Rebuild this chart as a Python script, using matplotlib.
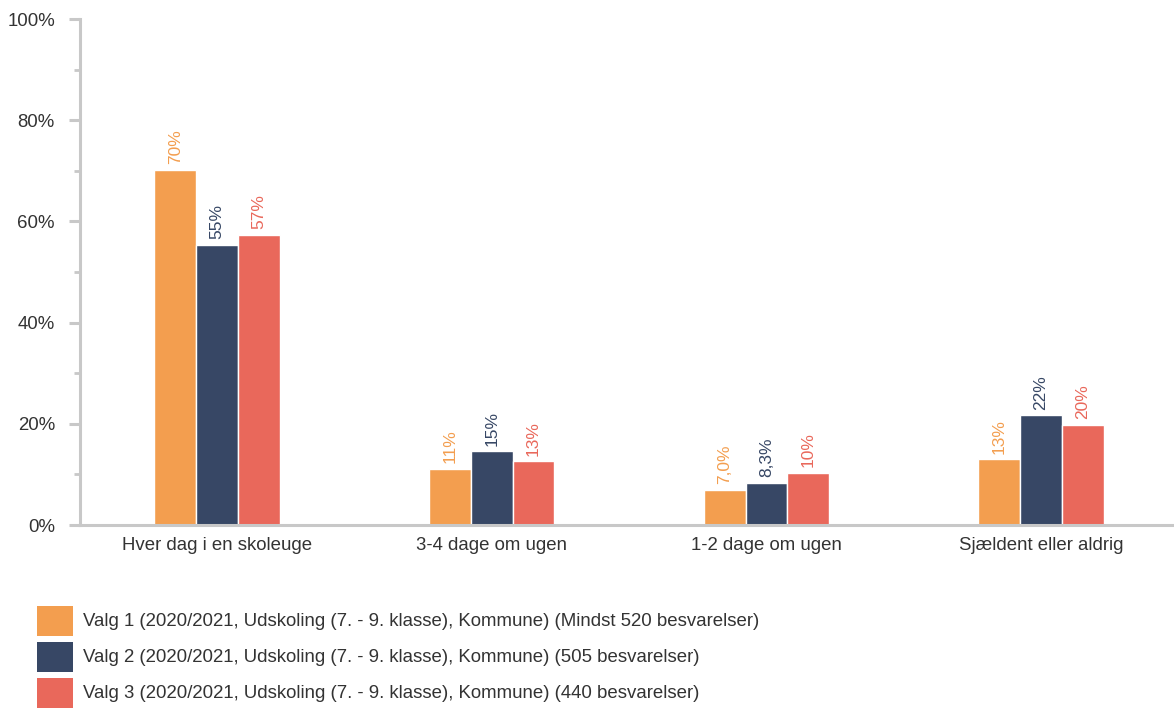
import numpy as np
import matplotlib.pyplot as plt
from matplotlib.patches import Rectangle
from matplotlib.ticker import MultipleLocator, FuncFormatter

plt.rcParams['font.family'] = ['Liberation Sans', 'DejaVu Sans']

categories = ['Hver dag i en skoleuge', '3-4 dage om ugen', '1-2 dage om ugen', 'Sjældent eller aldrig']
valg1 = [70.2, 11.1, 7.0, 13.0]
valg2 = [55.4, 14.6, 8.3, 21.7]
valg3 = [57.4, 12.6, 10.3, 19.8]
series_names = [
    'Valg 1 (2020/2021, Udskoling (7. - 9. klasse), Kommune) (Mindst 520 besvarelser)',
    'Valg 2 (2020/2021, Udskoling (7. - 9. klasse), Kommune) (505 besvarelser)',
    'Valg 3 (2020/2021, Udskoling (7. - 9. klasse), Kommune) (440 besvarelser)',
]
colors = ['#F39E4F', '#374765', '#E9685B']


def fmt(v):
    if v < 10:
        return f'{v:.1f}'.replace('.', ',') + '%'
    return f'{v:.0f}%'


W, H = 1174, 709
fig = plt.figure(figsize=(W / 100, H / 100), dpi=100)
ax = fig.add_axes([80 / W, 184 / H, 1 - 80 / W, (525 - 19) / H])

x = np.arange(len(categories))
w = 0.152
for i, (vals, c) in enumerate(zip([valg1, valg2, valg3], colors)):
    bars = ax.bar(x + (i - 1) * w, vals, w, color=c, edgecolor='white', linewidth=1)
    ax.bar_label(bars, labels=[fmt(v) for v in vals], rotation=90, padding=4,
                 color=c, fontsize=12.5)

ax.set_xlim(-0.499, 3.484)
ax.set_ylim(0, 100)
ax.yaxis.set_major_locator(MultipleLocator(20))
ax.yaxis.set_minor_locator(MultipleLocator(10))
ax.yaxis.set_major_formatter(FuncFormatter(lambda v, p: f'{v:.0f}%'))
ax.set_xticks(x)
ax.set_xticklabels(categories)

gray = '#C8C8C8'
for s in ['top', 'right']:
    ax.spines[s].set_visible(False)
for s in ['left', 'bottom']:
    ax.spines[s].set_color(gray)
    ax.spines[s].set_linewidth(2.2)
ax.tick_params(axis='y', which='major', length=8, width=2.2, color=gray,
               labelsize=13.4, labelcolor='#333333', pad=10)
ax.tick_params(axis='y', which='minor', length=4, width=2, color=gray)
ax.tick_params(axis='x', length=0, labelsize=13.4, labelcolor='#333333', pad=9)

# legend
for k, (name, c) in enumerate(zip(series_names, colors)):
    yc = 621 + k * 36
    fig.add_artist(Rectangle((37 / W, 1 - (yc + 15) / H), 36 / W, 30 / H,
                             transform=fig.transFigure, facecolor=c, edgecolor='none'))
    fig.text(83 / W, 1 - yc / H, name, va='center', ha='left', fontsize=13.4, color='#333333')

fig.savefig('out.png', dpi=100)
